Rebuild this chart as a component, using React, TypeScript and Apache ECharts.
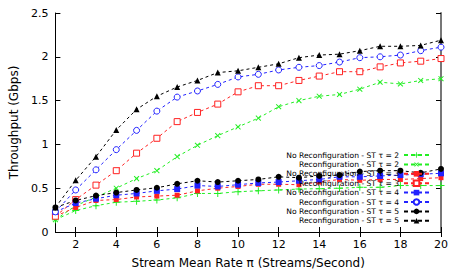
import React, { useEffect, useRef } from "react";
import * as echarts from "echarts";

const xValues = [1, 2, 3, 4, 5, 6, 7, 8, 9, 10, 11, 12, 13, 14, 15, 16, 17, 18, 19, 20];
const xTickValues = [2, 4, 6, 8, 10, 12, 14, 16, 18, 20];

const noRecon2 = [0.14, 0.245, 0.30, 0.34, 0.35, 0.365, 0.39, 0.44, 0.44, 0.46, 0.47, 0.48, 0.49, 0.495, 0.50, 0.51, 0.51, 0.53, 0.53, 0.53];
const recon2 = [0.14, 0.30, 0.40, 0.50, 0.61, 0.70, 0.86, 0.99, 1.10, 1.20, 1.30, 1.43, 1.50, 1.55, 1.57, 1.63, 1.71, 1.69, 1.73, 1.75];
const noRecon3 = [0.18, 0.28, 0.36, 0.37, 0.40, 0.41, 0.42, 0.47, 0.50, 0.52, 0.545, 0.545, 0.54, 0.57, 0.60, 0.59, 0.60, 0.60, 0.61, 0.62];
const recon3 = [0.18, 0.37, 0.535, 0.70, 0.90, 1.07, 1.26, 1.365, 1.46, 1.60, 1.67, 1.67, 1.73, 1.78, 1.83, 1.83, 1.885, 1.93, 1.95, 1.98];
const noRecon4 = [0.23, 0.33, 0.38, 0.42, 0.44, 0.47, 0.49, 0.53, 0.52, 0.54, 0.56, 0.57, 0.585, 0.60, 0.63, 0.63, 0.64, 0.65, 0.66, 0.67];
const recon4 = [0.23, 0.48, 0.71, 0.94, 1.16, 1.38, 1.54, 1.61, 1.685, 1.77, 1.80, 1.85, 1.88, 1.90, 1.94, 1.99, 2.00, 2.02, 2.07, 2.11];
const noRecon5 = [0.28, 0.36, 0.415, 0.45, 0.48, 0.505, 0.55, 0.585, 0.57, 0.585, 0.60, 0.63, 0.62, 0.64, 0.65, 0.69, 0.70, 0.70, 0.675, 0.72];
const recon5 = [0.28, 0.59, 0.86, 1.165, 1.40, 1.55, 1.655, 1.73, 1.82, 1.84, 1.88, 1.92, 1.99, 2.02, 2.03, 2.07, 2.12, 2.12, 2.13, 2.19];

const seriesNames = [
  "No Reconfiguration - ST τ = 2",
  "Reconfiguration - ST τ = 2",
  "No Reconfiguration - ST τ = 3",
  "Reconfiguration - ST τ = 3",
  "No Reconfiguration - ST τ = 4",
  "Reconfiguration - ST τ = 4",
  "No Reconfiguration - ST τ = 5",
  "Reconfiguration - ST τ = 5",
];

const FONT = "DejaVu Sans";
const GREEN = "#22ee22";
const RED = "#ff2222";
const BLUE = "#2222ff";
const BLACK = "#000000";
const PLUS = "path://M4.3,0h1.4v4.3h4.3v1.4h-4.3v4.3h-1.4v-4.3h-4.3v-1.4h4.3z";

function pairs(vals: number[]) {
  return xValues.map((x, i) => [x, vals[i]]);
}

function mk(name: string, vals: number[], color: string, symbol: string, size: number, opts: any = {}) {
  return {
    name,
    type: "line",
    data: pairs(vals),
    symbol,
    symbolSize: size,
    symbolRotate: opts.rotate || 0,
    showSymbol: true,
    lineStyle: { color, width: 1, type: [3, 3] },
    itemStyle: opts.hollow
      ? { color: "#ffffff", borderColor: color, borderWidth: 1 }
      : { color, borderColor: color, borderWidth: 0 },
    z: opts.z || 2,
  };
}

export default function App() {
  const ref = useRef<HTMLDivElement>(null);
  useEffect(() => {
    if (!ref.current) return;
    const chart = echarts.init(ref.current, undefined, { renderer: "svg" });
    const axisLine = { show: true, lineStyle: { color: "#000", width: 1 } };
    chart.setOption({
      animation: false,
      textStyle: { fontFamily: FONT },
      grid: { left: 48.5, right: 16, top: 13, bottom: 40, containLabel: false },
      legend: {
        orient: "vertical",
        align: "right",
        right: 27,
        top: 151,
        itemWidth: 25,
        itemHeight: 7,
        itemGap: 1.4,
        padding: 0,
        selectedMode: false,
        lineStyle: { type: [4, 3] },
        textStyle: { fontSize: 7.6, fontFamily: FONT, color: "#000" },
        data: seriesNames,
      },
      xAxis: [
        {
          type: "value",
          min: 1,
          max: 20,
          position: "bottom",
          axisLine,
          splitLine: { show: false },
          axisTick: { show: true, inside: true, length: 5, customValues: xTickValues, lineStyle: { color: "#000" } },
          axisLabel: { customValues: xTickValues, fontSize: 11, fontFamily: FONT, color: "#000", margin: 7 },
          name: "Stream Mean Rate π (Streams/Second)",
          nameLocation: "middle",
          nameGap: 25,
          nameTextStyle: { fontSize: 12, fontFamily: FONT, color: "#000" },
        },
        {
          type: "value",
          min: 1,
          max: 20,
          position: "top",
          axisLine,
          splitLine: { show: false },
          axisTick: { show: true, inside: true, length: 5, customValues: xTickValues, lineStyle: { color: "#000" } },
          axisLabel: { show: false },
        },
      ],
      yAxis: [
        {
          type: "value",
          min: 0,
          max: 2.5,
          interval: 0.5,
          position: "left",
          axisLine,
          splitLine: { show: false },
          axisTick: { show: true, inside: true, length: 5, lineStyle: { color: "#000" } },
          axisLabel: { fontSize: 11, fontFamily: FONT, color: "#000", margin: 7 },
          name: "Throughput (Gbps)",
          nameLocation: "middle",
          nameGap: 32,
          nameTextStyle: { fontSize: 12, fontFamily: FONT, color: "#000" },
        },
        {
          type: "value",
          min: 0,
          max: 2.5,
          interval: 0.5,
          position: "right",
          axisLine: { show: true, lineStyle: { color: "#777", width: 2 } },
          splitLine: { show: false },
          axisTick: { show: true, inside: true, length: 5, lineStyle: { color: "#000" } },
          axisLabel: { show: false },
        },
      ],
      series: [
        mk(seriesNames[0], noRecon2, GREEN, PLUS, 7),
        mk(seriesNames[1], recon2, GREEN, PLUS, 7, { rotate: 45 }),
        mk(seriesNames[2], noRecon3, RED, "rect", 5),
        mk(seriesNames[3], recon3, RED, "rect", 6, { hollow: true }),
        mk(seriesNames[4], noRecon4, BLUE, "rect", 6),
        mk(seriesNames[5], recon4, BLUE, "circle", 6, { hollow: true }),
        mk(seriesNames[6], noRecon5, BLACK, "circle", 6),
        mk(seriesNames[7], recon5, BLACK, "triangle", 6),
      ],
    });
    return () => chart.dispose();
  }, []);
  return (
    <div
      ref={ref}
      style={{ position: "fixed", left: 0, top: 0, width: 457, height: 274, background: "#fff" }}
    />
  );
}
